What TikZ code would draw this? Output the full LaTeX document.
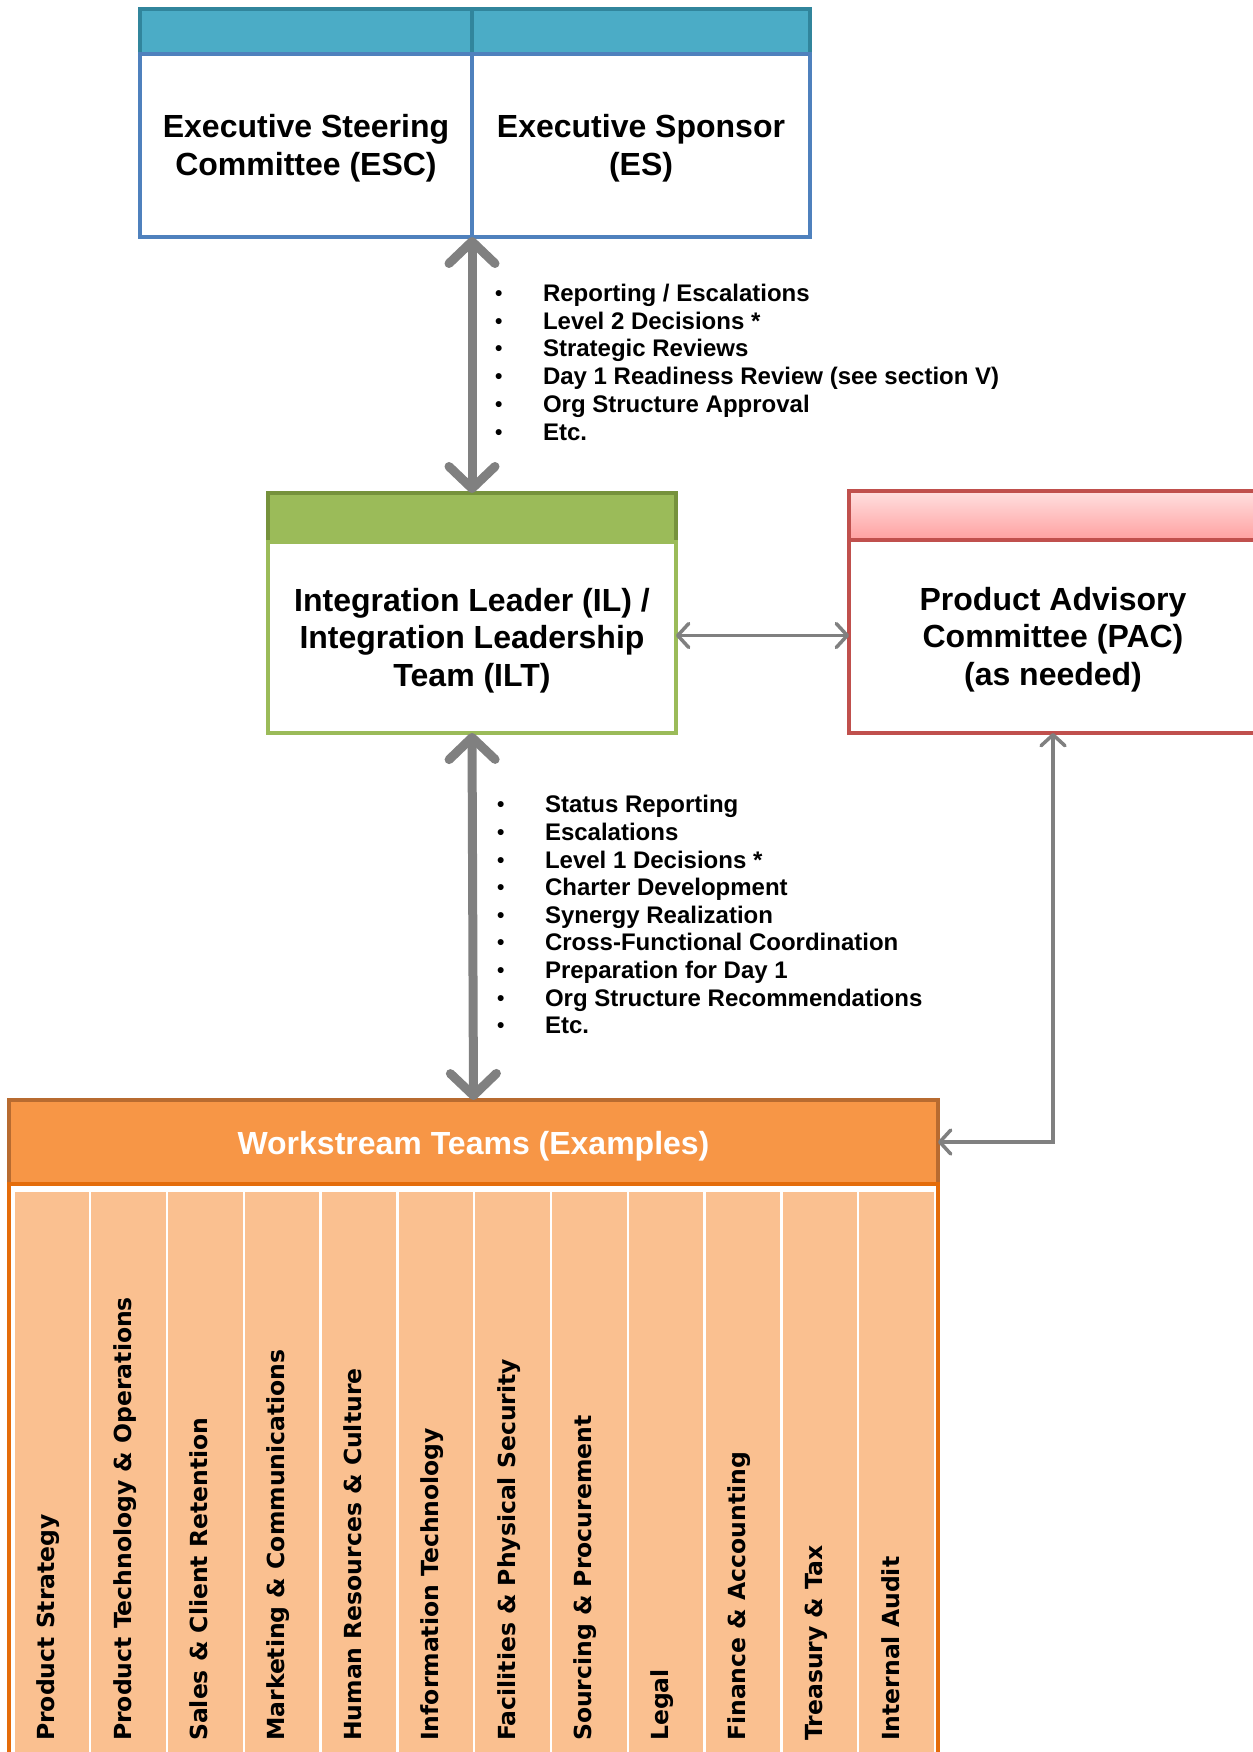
\documentclass[tikz,border=0pt]{standalone}
\usepackage{fontspec}
\setmainfont{Liberation Sans}
\newfontfamily\colfont{DejaVu Sans}
\usetikzlibrary{arrows.meta}
\definecolor{bluehdr}{HTML}{4BACC6}
\definecolor{bluehdrline}{HTML}{31859C}
\definecolor{blueline}{HTML}{4F81BD}
\definecolor{greenhdr}{HTML}{9BBB59}
\definecolor{greenhdrline}{HTML}{76923C}
\definecolor{redline}{HTML}{C0504D}
\definecolor{redtop}{HTML}{FFE0E0}
\definecolor{redbot}{HTML}{FFA0A0}
\definecolor{orangehdr}{HTML}{F79646}
\definecolor{orangehdrline}{HTML}{B86B30}
\definecolor{orangeline}{HTML}{E46C0A}
\definecolor{cellfill}{HTML}{FAC090}
\definecolor{arrowgray}{HTML}{808080}
\tikzset{
  boxbase/.style={inner sep=0pt, outer sep=0pt, line width=3.5pt},
  titletext/.style={align=center, font=\bfseries},
  bul/.style={anchor=base west, inner sep=0pt, outer sep=0pt, font=\fontsize{24}{27.6}\selectfont\bfseries},
  coltext/.style={rotate=90, anchor=base west, inner sep=0pt, font=\colfont\bfseries\fontsize{23.5}{23.5}\selectfont},
  thickarrow/.style={draw=arrowgray, line width=9pt, line cap=round,
    {Straight Barb[length=22pt,width=46pt,line join=round,line cap=round]}-{Straight Barb[length=22pt,width=46pt,line join=round,line cap=round]}},
  thinarrow/.style={draw=arrowgray, line width=3.5pt,
    {Straight Barb[length=11pt,width=24pt,line join=round,line cap=round]}-{Straight Barb[length=11pt,width=24pt,line join=round,line cap=round]}}
}
\newcommand\bulmark{\makebox[48pt][l]{\raisebox{1pt}{\fontsize{21}{21}\selectfont •}}}
\newcommand\ctext[3]{\raisebox{-#1}[\height][\depth]{\fontsize{32}{#2}\selectfont\begin{tabular}{@{}c@{}}#3\end{tabular}}}
\begin{document}
\begin{tikzpicture}[x=1pt,y=-1pt]
\useasboundingbox (0,0) rectangle (1252,1752);
\fill[white] (0,0) rectangle (1252,1752);
% top boxes
\node[boxbase, draw=bluehdrline, fill=bluehdr, minimum width=332pt, minimum height=45pt] (hesc) at (306,31.5) {};
\node[boxbase, draw=bluehdrline, fill=bluehdr, minimum width=338pt, minimum height=45pt] (hes) at (641,31.5) {};
\node[boxbase, draw=blueline, fill=white, minimum width=332pt, minimum height=183pt, titletext] (esc) at (306,145.5) {\ctext{3.5pt}{38}{Executive Steering\\Committee (ESC)}};
\node[boxbase, draw=blueline, fill=white, minimum width=338pt, minimum height=183pt, titletext] (es) at (641,145.5) {\ctext{3.5pt}{38}{Executive Sponsor\\(ES)}};
% ILT
\node[boxbase, draw=greenhdrline, fill=greenhdr, minimum width=408pt, minimum height=49pt] (hilt) at (472,517.5) {};
\node[boxbase, draw=greenhdr, fill=white, minimum width=408pt, minimum height=191pt, titletext] (ilt) at (472,637.5) {\ctext{3.5pt}{37.5}{Integration Leader (IL) /\\Integration Leadership\\Team (ILT)}};
% PAC
\node[boxbase, draw=redline, top color=redtop, bottom color=redbot, minimum width=408pt, minimum height=49pt] (hpac) at (1053,515.5) {};
\node[boxbase, draw=redline, fill=white, minimum width=408pt, minimum height=193pt, titletext] (pac) at (1053,636.5) {\ctext{3.5pt}{37.5}{Product Advisory\\Committee (PAC)\\(as needed)}};
% Workstream
\node[boxbase, draw=orangehdrline, fill=orangehdr, minimum width=929pt, minimum height=84pt, text=white, titletext] (ws) at (473.5,1142) {\ctext{4.5pt}{38}{Workstream Teams (Examples)}};
\node[boxbase, draw=orangeline, fill=white, minimum width=929pt, minimum height=586pt] (wsbody) at (473.5,1477) {};
\foreach \t [count=\i from 0] in {Product Strategy, Product Technology \& Operations, Sales \& Client Retention, Marketing \& Communications, Human Resources \& Culture, Information Technology, Facilities \& Physical Security, Sourcing \& Procurement, Legal, Finance \& Accounting, Treasury \& Tax, Internal Audit}{
  \node[inner sep=0pt, outer sep=0pt, fill=cellfill, draw=white, line width=2.5pt, minimum width=76.8pt, minimum height=580pt] (c\i) at ({13.4+76.8*\i+38.4},1481) {};
  \node[coltext] (t\i) at ({13.4+76.8*\i+38.4+2.5},1741) {\t};
}
% redraw header bottom edge over cells
\draw[orangeline, line width=3.5pt] (wsbody.north west) -- (wsbody.north east);
% bullet lists
\foreach \t [count=\i from 0] in {Reporting / Escalations, Level 2 Decisions *, Strategic Reviews, Day 1 Readiness Review (see section V), Org Structure Approval, Etc.}{
  \node[bul] (la\i) at (495,{301.5+27.7*\i}) {\bulmark\t};
}
\foreach \t [count=\i from 0] in {Status Reporting, Escalations, Level 1 Decisions *, Charter Development, Synergy Realization, Cross-Functional Coordination, Preparation for Day 1, Org Structure Recommendations, Etc.}{
  \node[bul] (lb\i) at (497,{812.8+27.6*\i}) {\bulmark\t};
}
% connectors
\draw[thickarrow] (esc.south east) -- (hilt.north -| esc.south east);
\draw[thickarrow] (ilt.south) -- (ws.north);
\draw[thinarrow] ([yshift=2pt]ilt.east) -- ([yshift=2pt]ilt.east -| pac.west);
\draw[thinarrow] (pac.south) |- (ws.east);
\end{tikzpicture}
\end{document}
